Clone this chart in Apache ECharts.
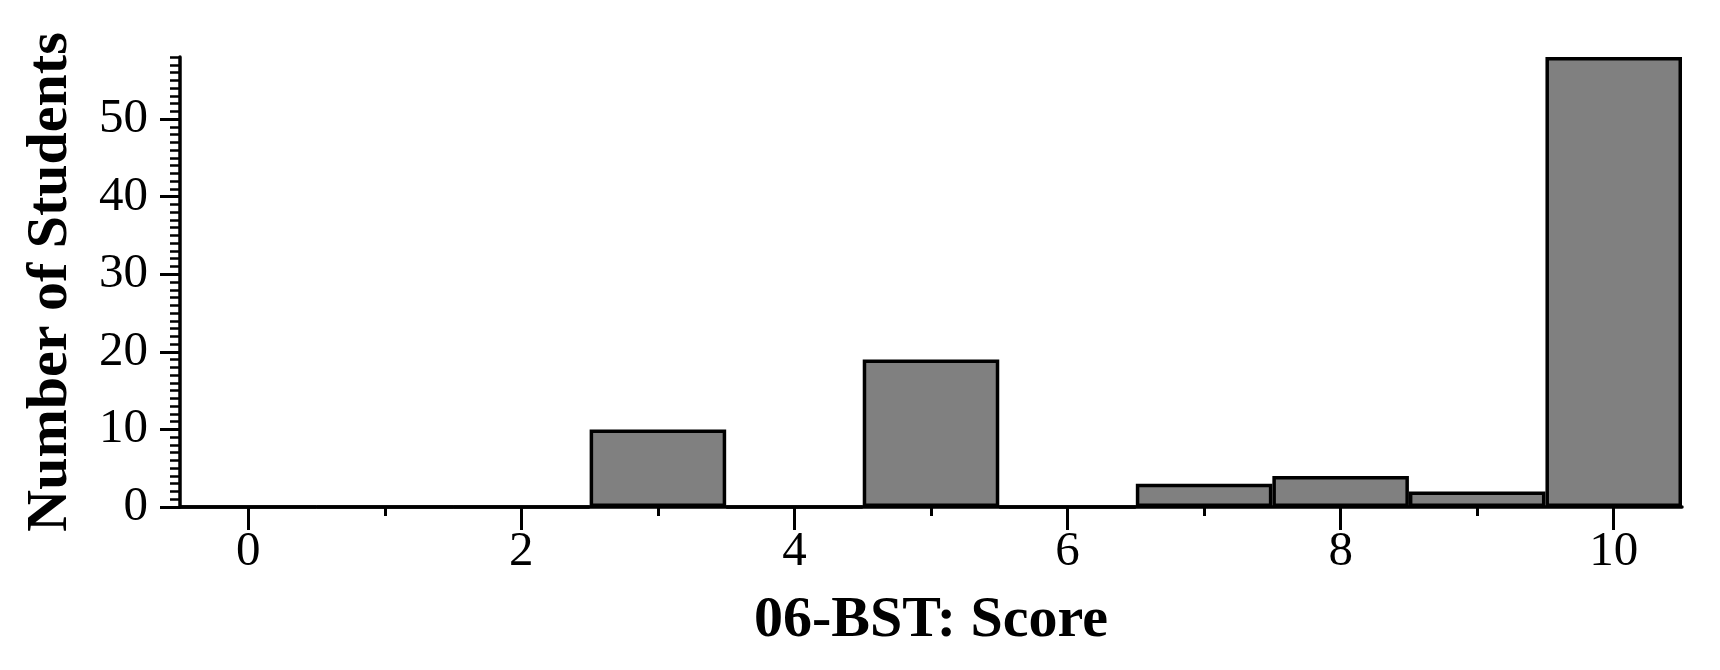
<!DOCTYPE html>
<html>
<head>
<meta charset="utf-8">
<script src="https://cdn.jsdelivr.net/npm/echarts@6/dist/echarts.min.js"></script>
<style>
  html, body { margin: 0; padding: 0; background: #fff; }
  #chart { width: 1720px; height: 670px; }
</style>
</head>
<body>
<div id="chart"></div>
<script>
// score bins and how many students got each score
var scores = ['0', '1', '2', '3', '4', '5', '6', '7', '8', '9', '10'];
var students = [0, 0, 0, 10, 0, 19, 0, 3, 4, 2, 58];
var yTicks = [0, 10, 20, 30, 40, 50];
var yMax = 58;

var chart = echarts.init(document.getElementById('chart'));
var font = 'Liberation Serif, Times New Roman, serif';

var option = {
    animation: false,
    grid: {
        left: 180,
        right: 38,
        top: 57,
        bottom: 163
    },
    xAxis: [
        {
            // minor ticks on every score
            type: 'category',
            data: scores,
            position: 'bottom',
            axisLine: { show: true, lineStyle: { color: '#000', width: 3.5 } },
            axisTick: { show: true, alignWithLabel: true, length: 9, lineStyle: { color: '#000', width: 3 } },
            axisLabel: { show: false },
            splitLine: { show: false }
        },
        {
            // major ticks + labels on even scores
            type: 'category',
            data: scores,
            position: 'bottom',
            axisLine: { show: false },
            axisTick: {
                show: true,
                alignWithLabel: true,
                length: 23,
                interval: function (i) { return i % 2 === 0; },
                lineStyle: { color: '#000', width: 3 }
            },
            axisLabel: {
                interval: function (i) { return i % 2 === 0; },
                margin: 21,
                color: '#000',
                fontFamily: font,
                fontSize: 49
            },
            name: '06-BST: Score',
            nameLocation: 'middle',
            nameGap: 85,
            nameTextStyle: { color: '#000', fontFamily: font, fontSize: 58, fontWeight: 'bold' },
            splitLine: { show: false }
        }
    ],
    yAxis: [
        {
            // minor ticks every student
            type: 'value',
            min: 0,
            max: yMax,
            interval: 1,
            position: 'left',
            axisLine: { show: true, lineStyle: { color: '#000', width: 3.5 } },
            axisTick: { show: true, length: 10, lineStyle: { color: '#000', width: 2.5 } },
            axisLabel: { show: false },
            splitLine: { show: false }
        },
        {
            type: 'value',
            min: 0,
            max: yMax,
            position: 'left',
            axisLine: { show: false },
            axisTick: { show: true, length: 20, customValues: yTicks, lineStyle: { color: '#000', width: 3 } },
            axisLabel: {
                customValues: yTicks,
                margin: 32,
                color: '#000',
                fontFamily: font,
                fontSize: 49
            },
            name: 'Number of Students',
            nameLocation: 'middle',
            nameGap: 100,
            nameTextStyle: { color: '#000', fontFamily: font, fontSize: 58, fontWeight: 'bold' },
            splitLine: { show: false }
        }
    ],
    series: [
        {
            type: 'bar',
            xAxisIndex: 0,
            yAxisIndex: 0,
            data: students,
            barCategoryGap: '0%',
            itemStyle: { color: '#808080', borderColor: '#000', borderWidth: 3.5 }
        }
    ]
};
chart.setOption(option);
</script>
</body>
</html>
